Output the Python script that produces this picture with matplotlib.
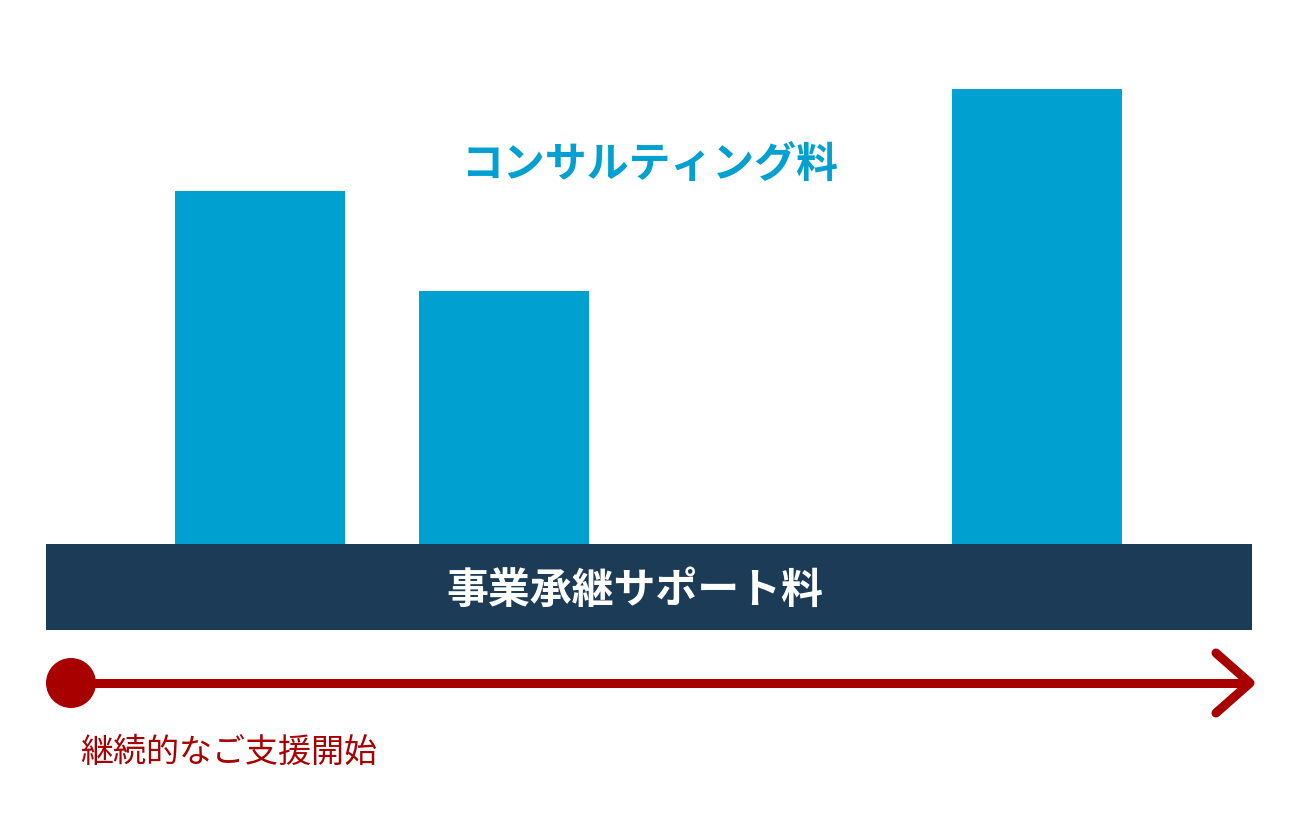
import matplotlib
matplotlib.use("Agg")
import matplotlib.pyplot as plt
from matplotlib.patches import Rectangle, Circle

plt.rcParams['font.family'] = ['Noto Sans CJK JP', 'DejaVu Sans']

# data
bar_positions = [260.5, 504.0, 1037.0]
bar_values = [353, 253, 455]
bar_width = 170
consult_label = "コンサルティング料"
support_label = "事業承継サポート料"
start_label = "継続的なご支援開始"

BLUE = "#00A1D1"
NAVY = "#1C3B57"
RED = "#A80000"

fig = plt.figure(figsize=(12.99, 8.40), dpi=100)
ax = fig.add_axes([0, 0, 1, 1])
ax.set_xlim(0, 1299)
ax.set_ylim(-296, 544)
ax.axis('off')

ax.bar(bar_positions, bar_values, width=bar_width, bottom=0, color=BLUE)

# base band
ax.add_patch(Rectangle((46, -86), 1206, 86, facecolor=NAVY, edgecolor='none'))
ax.text(635, -47, support_label, color='white', fontsize=30.2, fontweight='bold',
        ha='center', va='center')

ax.text(650, 378, consult_label, color=BLUE, fontsize=30.2, fontweight='bold',
        ha='center', va='center')

# arrow line
ax.plot([71, 1250], [-139, -139], color=RED, lw=6.5, solid_capstyle='butt')
ax.plot([1216, 1250, 1216], [-109, -139, -169], color=RED, lw=6.5,
        solid_capstyle='round', solid_joinstyle='round')
ax.add_patch(Circle((71, -139), 25, facecolor=RED, edgecolor='none'))

ax.text(80, -208, start_label, color=RED, fontsize=23.8, fontweight='normal',
        ha='left', va='center')

fig.savefig("out.png", dpi=100)
